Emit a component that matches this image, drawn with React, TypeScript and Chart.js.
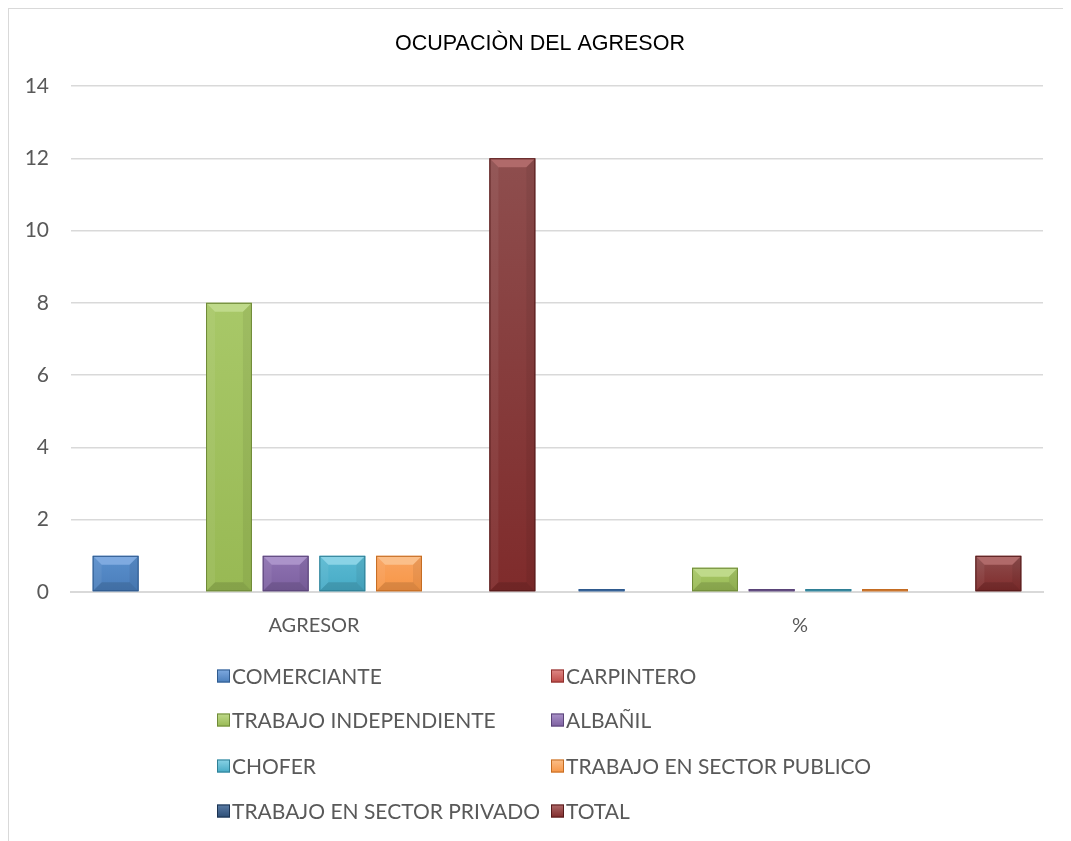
import React, { useEffect, useRef } from "react";
import { Chart, registerables } from "chart.js";

Chart.register(...registerables);

const titleText = "OCUPACIÒN DEL AGRESOR";
const categories = ["AGRESOR", "%"];
const seriesNames = [
  "COMERCIANTE",
  "CARPINTERO",
  "TRABAJO INDEPENDIENTE",
  "ALBAÑIL",
  "CHOFER",
  "TRABAJO EN SECTOR PUBLICO",
  "TRABAJO EN SECTOR PRIVADO",
  "TOTAL",
];
const comerciante = [1, 0.083];
const carpintero = [0, 0];
const independiente = [8, 0.67];
const albanil = [1, 0.083];
const chofer = [1, 0.083];
const publico = [1, 0.083];
const privado = [0, 0];
const total = [12, 1];
const seriesValues = [comerciante, carpintero, independiente, albanil, chofer, publico, privado, total];
const seriesColors = ["#4A7EBB", "#BE4B48", "#98B954", "#7D60A0", "#46AAC5", "#F79646", "#2C4D75", "#7F2B2B"];
const seriesLight = ["#7FAAE0", "#E08A87", "#BFDA8A", "#AB93CA", "#8AD3E6", "#FBBF8A", "#5A7CA6", "#B06A6A"];
const seriesTop = ["#5A8FCC", "#CC615E", "#A8C868", "#8E73B2", "#5BBAD3", "#F9A461", "#3A5E8A", "#8E4E4E"];
const seriesBorders = ["#2f5a8e", "#8c2f2c", "#6f8a38", "#5a4478", "#2f7f95", "#c46c22", "#1b3250", "#561b1b"];
const yTicks = [0, 2, 4, 6, 8, 10, 12, 14];

const FONT = "Lato, 'Open Sans', sans-serif";
const GRAY = "#595959";

const bevelPlugin = {
  id: "bevel",
  afterDatasetsDraw(chart: any) {
    const ctx = chart.ctx;
    chart.data.datasets.forEach((d: any, i: number) => {
      const meta = chart.getDatasetMeta(i);
      meta.data.forEach((bar: any) => {
        const { x, y, base, width } = bar.getProps(["x", "y", "base", "width"], true);
        const h = base - y;
        if (h < 0.5) return;
        const l = x - width / 2;
        const r = x + width / 2;
        const b = Math.min(9, h / 2);
        ctx.save();
        const g = ctx.createLinearGradient(0, y, 0, base);
        g.addColorStop(0, seriesTop[i]);
        g.addColorStop(1, seriesColors[i]);
        ctx.fillStyle = g;
        ctx.fillRect(l, y, width, h);
        ctx.fillStyle = seriesLight[i];
        ctx.beginPath();
        ctx.moveTo(l, y);
        ctx.lineTo(r, y);
        ctx.lineTo(r - b, y + b);
        ctx.lineTo(l + b, y + b);
        ctx.closePath();
        ctx.fill();
        ctx.fillStyle = "rgba(0,0,0,0.12)";
        ctx.beginPath();
        ctx.moveTo(l, base);
        ctx.lineTo(r, base);
        ctx.lineTo(r - b, base - b);
        ctx.lineTo(l + b, base - b);
        ctx.closePath();
        ctx.fill();
        ctx.fillStyle = "rgba(0,0,0,0.06)";
        ctx.beginPath();
        ctx.moveTo(r, y);
        ctx.lineTo(r, base);
        ctx.lineTo(r - b, base - b);
        ctx.lineTo(r - b, y + b);
        ctx.closePath();
        ctx.fill();
        ctx.fillStyle = "rgba(255,255,255,0.06)";
        ctx.beginPath();
        ctx.moveTo(l, y);
        ctx.lineTo(l, base);
        ctx.lineTo(l + b, base - b);
        ctx.lineTo(l + b, y + b);
        ctx.closePath();
        ctx.fill();
        ctx.strokeStyle = seriesBorders[i];
        ctx.lineWidth = 1;
        ctx.strokeRect(l + 0.5, y + 0.5, width - 1, h - 1);
        ctx.restore();
      });
    });
  },
};

const textPlugin = {
  id: "titleAndLegend",
  afterDraw(chart: any) {
    const ctx = chart.ctx;
    ctx.save();
    // title
    ctx.font = "21.5px 'Liberation Sans', Arial, sans-serif";
    ctx.fillStyle = "#000000";
    ctx.textAlign = "center";
    ctx.textBaseline = "middle";
    ctx.fillText(titleText, chart.width / 2, 35);
    // legend
    const ds = chart.data.datasets;
    const colX = [208, 542];
    const rowY = [667, 711, 757, 802];
    ctx.font = `21px ${FONT}`;
    ctx.textAlign = "left";
    ds.forEach((d: any, i: number) => {
      const cx = colX[i % 2];
      const cy = rowY[Math.floor(i / 2)];
      const s = 13;
      const top = cy - s / 2;
      const g = ctx.createLinearGradient(0, top, 0, top + s);
      g.addColorStop(0, seriesLight[i]);
      g.addColorStop(1, seriesColors[i]);
      ctx.fillStyle = g;
      ctx.fillRect(cx, top, s, s);
      ctx.strokeStyle = seriesBorders[i];
      ctx.lineWidth = 1;
      ctx.strokeRect(cx + 0.5, top + 0.5, s - 1, s - 1);
      ctx.fillStyle = GRAY;
      ctx.fillText(d.label, cx + s + 2, cy + 1);
    });
    ctx.restore();
  },
};

export default function App() {
  const ref = useRef<HTMLCanvasElement>(null);
  useEffect(() => {
    if (!ref.current) return;
    const chart = new Chart(ref.current, {
      type: "bar",
      data: {
        labels: categories,
        datasets: seriesNames.map((name, i) => ({
          label: name,
          data: seriesValues[i],
          backgroundColor: seriesColors[i],
          borderColor: seriesBorders[i],
          borderWidth: 1,
          categoryPercentage: 0.933,
          barPercentage: 0.81,
        })),
      },
      options: {
        animation: false,
        responsive: false,
        maintainAspectRatio: false,
        layout: { padding: { left: 0, right: 28, top: 77, bottom: 181 } },
        plugins: {
          legend: { display: false },
          tooltip: { enabled: false },
          title: { display: false },
        },
        scales: {
          x: {
            grid: { display: false, drawTicks: false },
            border: { display: true, color: "#d9d9d9", width: 2 },
            ticks: { color: GRAY, font: { family: FONT, size: 20 }, padding: 22 },
          },
          y: {
            min: 0,
            max: 14,
            afterBuildTicks: (axis: any) => {
              axis.ticks = yTicks.map((v) => ({ value: v }));
            },
            afterFit: (axis: any) => {
              axis.width = 62;
            },
            grid: { color: "#d9d9d9", lineWidth: 1.5, drawTicks: false },
            border: { display: false },
            ticks: { color: GRAY, font: { family: FONT, size: 21 }, padding: 22 },
          },
        },
      },
      plugins: [bevelPlugin, textPlugin],
    });
    return () => chart.destroy();
  }, []);
  return (
    <div style={{ width: 1063, height: 833, borderLeft: "1px solid #d9d9d9", borderTop: "1px solid #d9d9d9", boxSizing: "border-box" }}>
      <canvas ref={ref} width={1062} height={832} style={{ display: "block" }} />
    </div>
  );
}
